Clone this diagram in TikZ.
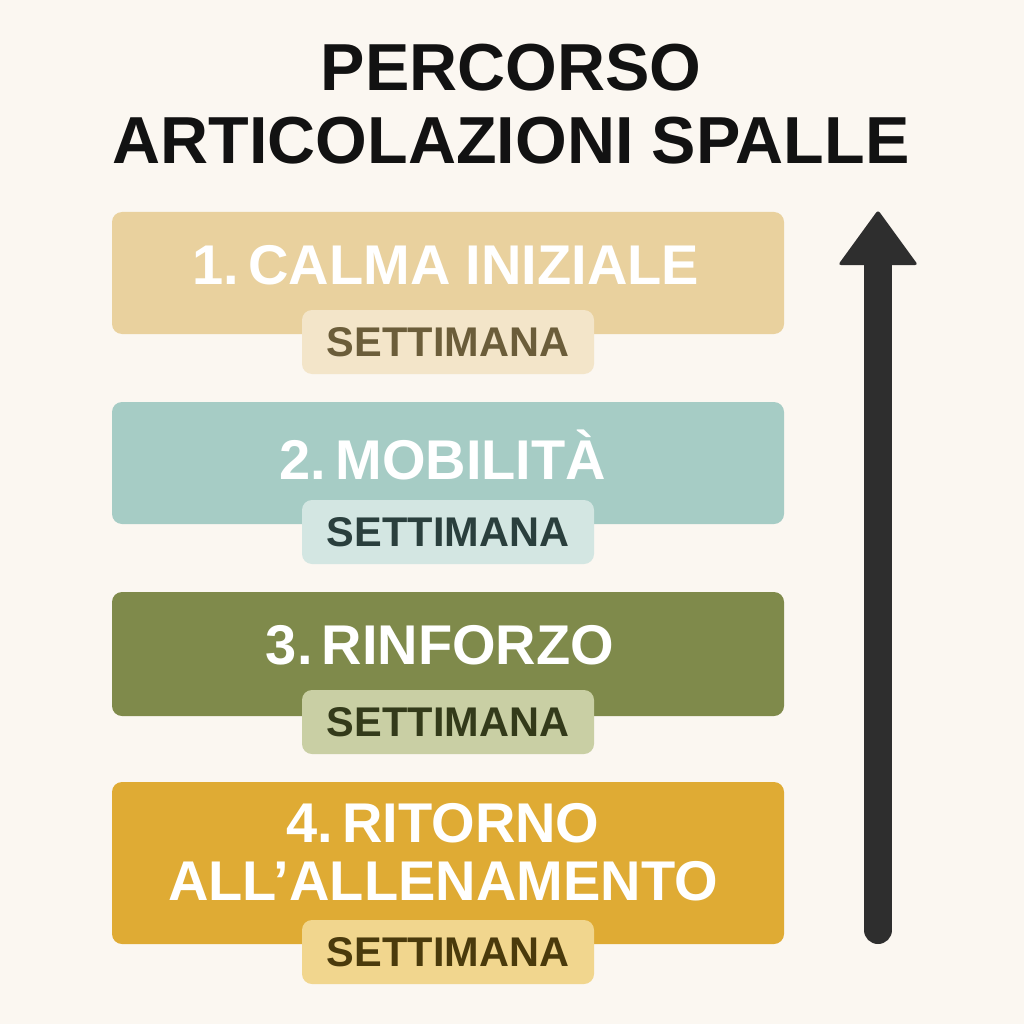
\documentclass[tikz,border=0pt]{standalone}
\usepackage{fontspec}
\setmainfont{Liberation Sans}
\definecolor{paper}{HTML}{FBF7F1}
\definecolor{calma}{HTML}{E9D19E}
\definecolor{calmabadge}{HTML}{F3E5C9}
\definecolor{calmaink}{HTML}{6B5D3A}
\definecolor{mobilita}{HTML}{A6CCC5}
\definecolor{mobilitabadge}{HTML}{D3E6E2}
\definecolor{mobilitaink}{HTML}{2A3F3D}
\definecolor{rinforzo}{HTML}{7F8A4B}
\definecolor{rinforzobadge}{HTML}{C9CFA4}
\definecolor{rinforzoink}{HTML}{333A1A}
\definecolor{ritorno}{HTML}{DFAB34}
\definecolor{ritornobadge}{HTML}{F1D68E}
\definecolor{ritornoink}{HTML}{4A3A0C}
\definecolor{arrowgrey}{HTML}{2E2E2E}
\newcommand{\stepnum}[1]{#1.\kern0.16em}

\begin{document}
\begin{tikzpicture}[
    x=1pt, y=-1pt,
    title/.style={inner sep=0pt, align=center, text=black!93,
      font=\fontsize{66.5}{73}\selectfont\bfseries},
    stage/.style={rectangle, rounded corners=10pt, inner sep=0pt,
      minimum width=672pt, minimum height=122pt},
    stagetext/.style={inner sep=0pt, align=center, text=white,
      font=\fontsize{56}{58}\selectfont\bfseries},
    badge/.style={rectangle, rounded corners=10pt, inner sep=0pt,
      minimum width=292pt, minimum height=64pt,
      font=\fontsize{41.5}{41.5}\selectfont\bfseries},
  ]
  \useasboundingbox[fill=paper] (0,0) rectangle (1024,1024);

  \node[title] (title) at (511,104) {PERCORSO\\ARTICOLAZIONI SPALLE};

  % stages
  \node[stage, fill=calma] (calma) at (448,273) {};
  \node[stagetext] (calmatext) at (446,265) {\stepnum{1}CALMA INIZIALE};
  \node[badge, fill=calmabadge, text=calmaink] (calmaweek) at (448,342) {SETTIMANA};

  \node[stage, fill=mobilita] (mobilita) at (448,463) {};
  \node[stagetext] (mobilitatext) at (443,455) {\stepnum{2}MOBILITÀ};
  \node[badge, fill=mobilitabadge, text=mobilitaink] (mobilitaweek) at (448,532) {SETTIMANA};

  \node[stage, fill=rinforzo, minimum height=124pt] (rinforzo) at (448,654) {};
  \node[stagetext] (rinforzotext) at (440,645) {\stepnum{3}RINFORZO};
  \node[badge, fill=rinforzobadge, text=rinforzoink] (rinforzoweek) at (448,722) {SETTIMANA};

  \node[stage, fill=ritorno, minimum height=162pt] (ritorno) at (448,863) {};
  \node[stagetext] (ritornotext) at (443,852) {\stepnum{4}RITORNO\\ALL’ALLENAMENTO};
  \node[badge, fill=ritornobadge, text=ritornoink] (ritornoweek) at (448,952) {SETTIMANA};

  % progress arrow
  \coordinate (arrowfoot) at (878,930);
  \coordinate (arrowneck) at (878,262);
  \coordinate (arrowtip) at (878,210);
  \draw[arrowgrey, line width=28pt, line cap=round] (arrowfoot) -- (arrowneck);
  \fill[arrowgrey, rounded corners=3pt] (arrowtip) -- (918,265) -- (838,265) -- cycle;
\end{tikzpicture}
\end{document}
